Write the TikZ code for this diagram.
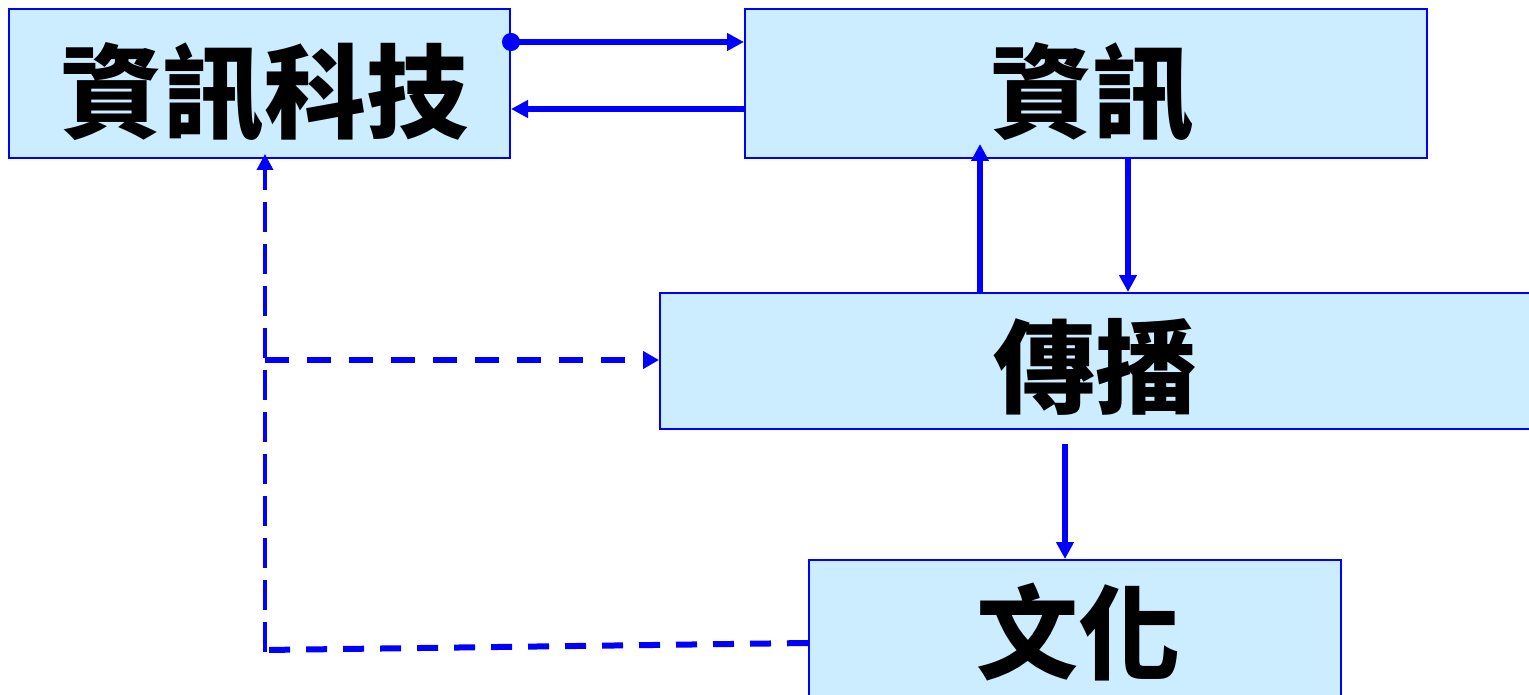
\documentclass[tikz,border=0pt]{standalone}
\usepackage{fontspec}
\newfontfamily\cjk{Noto Sans CJK TC}
\usetikzlibrary{arrows.meta}
\definecolor{boxfill}{HTML}{CCECFF}
\definecolor{lineblue}{HTML}{0000FF}
\begin{document}
\begin{tikzpicture}[x=1pt,y=-1pt,
  box/.style={draw=lineblue, line width=2pt, fill=boxfill, inner sep=0pt,
    text height=110pt, text depth=15pt,
    font=\cjk\bfseries\fontsize{102}{110}\selectfont},
  link/.style={draw=lineblue, line width=5.5pt, -{Triangle[length=17pt,width=17pt]}},
  dlink/.style={draw=lineblue, line width=3.5pt, dash pattern=on 30pt off 12pt,
    -{Triangle[length=16pt,width=16pt]}},
  hlink/.style={draw=lineblue, line width=5.5pt, dash pattern=on 24pt off 18pt,
    -{Triangle[length=16pt,width=17pt]}},
  blink/.style={draw=lineblue, line width=6pt, dash pattern=on 21pt off 16pt}]
\useasboundingbox (0,0) rectangle (1529,695);
\node[box, minimum width=501pt, minimum height=149pt] (t) at (259.5,83.5) {\hspace{10pt}資訊科技};
\node[box, minimum width=682pt, minimum height=149pt] (i) at (1086,83.5) {\hspace{12pt}資訊};
\node[box, minimum width=870pt, minimum height=136pt, text height=104pt, text depth=15pt] (p) at (1095,361) {傳播};
\node[box, minimum width=532pt, minimum height=150pt, text height=88pt, text depth=15pt] (c) at (1075,635) {\hspace{6pt}文化};
\coordinate (vb) at (265,652);
\coordinate (hb) at (265,360);
\coordinate (bl) at (265,650);
% top arrows
\draw[draw=lineblue, line width=5.5pt, {Circle[length=18pt]}-{Triangle[length=17pt,width=17pt]},
  shorten <=-9pt] (t.east |- 0,42) -- (i.west |- 0,42);
\draw[link] (i.west |- 0,109) -- (t.east |- 0,109);
% between info and spread
\draw[link, shorten >=-15pt] (p.north -| 980,0) -- (i.south -| 980,0);
\draw[link] (i.south -| 1128,0) -- (p.north -| 1128,0);
% spread to culture
\draw[link, shorten <=14pt] (p.south -| 1065,0) -- (c.north -| 1065,0);
% dashed
\draw[dlink, shorten >=-5pt] (vb) -- (t.south -| vb);
\draw[hlink] (hb) -- (p.west |- hb);
\draw[blink] (c.west |- 0,643) -- (bl);
\end{tikzpicture}
\end{document}
